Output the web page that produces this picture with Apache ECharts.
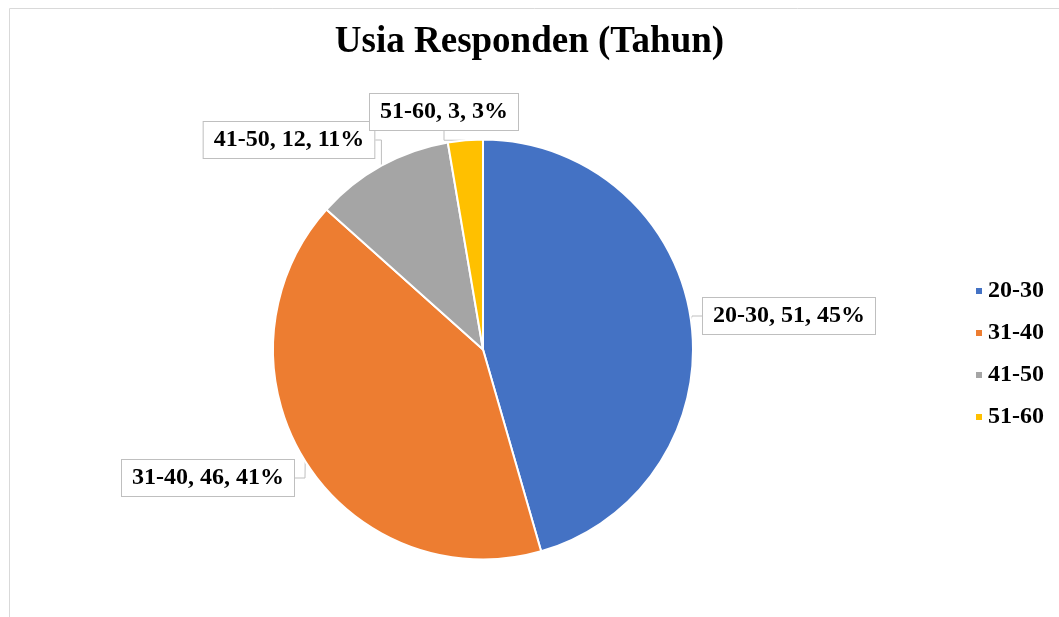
<!DOCTYPE html>
<html>
<head>
<meta charset="utf-8">
<script src="https://cdn.jsdelivr.net/npm/echarts@6/dist/echarts.min.js"></script>
<style>
html,body{margin:0;padding:0;background:#fff;}
#chart{width:1059px;height:617px;}
</style>
</head>
<body>
<div id="chart"></div>
<script>
const titleText = 'Usia Responden (Tahun)';
const categories = ['20-30', '31-40', '41-50', '51-60'];
const values = [51, 46, 12, 3];
const colors = ['#4472C4', '#ED7D31', '#A5A5A5', '#FFC000'];

// label box centres (layout only)
const labelCenters = [[789, 316], [208, 478], [289, 140], [444, 112]];

const chart = echarts.init(document.getElementById('chart'));
const font = 'Liberation Serif, Times New Roman, serif';
chart.setOption({
  animation: false,
  color: colors,
  title: {
    text: titleText,
    left: 'center',
    top: 19,
    textStyle: { fontFamily: font, fontSize: 37, fontWeight: 'bold', color: '#000' }
  },
  graphic: [{
    type: 'rect',
    shape: { x: 9.5, y: 8.5, width: 1200, height: 800 },
    style: { fill: 'none', stroke: '#d9d9d9', lineWidth: 1 },
    silent: true
  }],
  legend: {
    orient: 'vertical',
    left: 969,
    top: 274,
    icon: 'rect',
    itemWidth: 8,
    itemHeight: 8,
    itemGap: 18,
    data: categories,
    textStyle: { fontFamily: font, fontSize: 24, fontWeight: 'bold', color: '#000', lineHeight: 24 }
  },
  series: [{
    type: 'pie',
    center: [483, 349.5],
    radius: 210,
    startAngle: 90,
    clockwise: true,
    percentPrecision: 0,
    avoidLabelOverlap: false,
    itemStyle: { borderColor: '#fff', borderWidth: 2 },
    label: {
      show: true,
      formatter: '{b}, {c}, {d}%',
      fontFamily: font,
      fontSize: 24,
      fontWeight: 'bold',
      color: '#000',
      backgroundColor: '#fff',
      borderColor: '#bfbfbf',
      borderWidth: 1,
      padding: [7, 10, 5, 10]
    },
    labelLine: { show: true, length: 10, length2: 10, lineStyle: { color: '#bfbfbf', width: 1 } },
    labelLayout: function (p) {
      const c = labelCenters[p.dataIndex];
      return { x: c[0], y: c[1], align: 'center', verticalAlign: 'middle' };
    },
    data: categories.map((c, i) => ({ name: c, value: values[i] }))
  }]
});
</script>
</body>
</html>
